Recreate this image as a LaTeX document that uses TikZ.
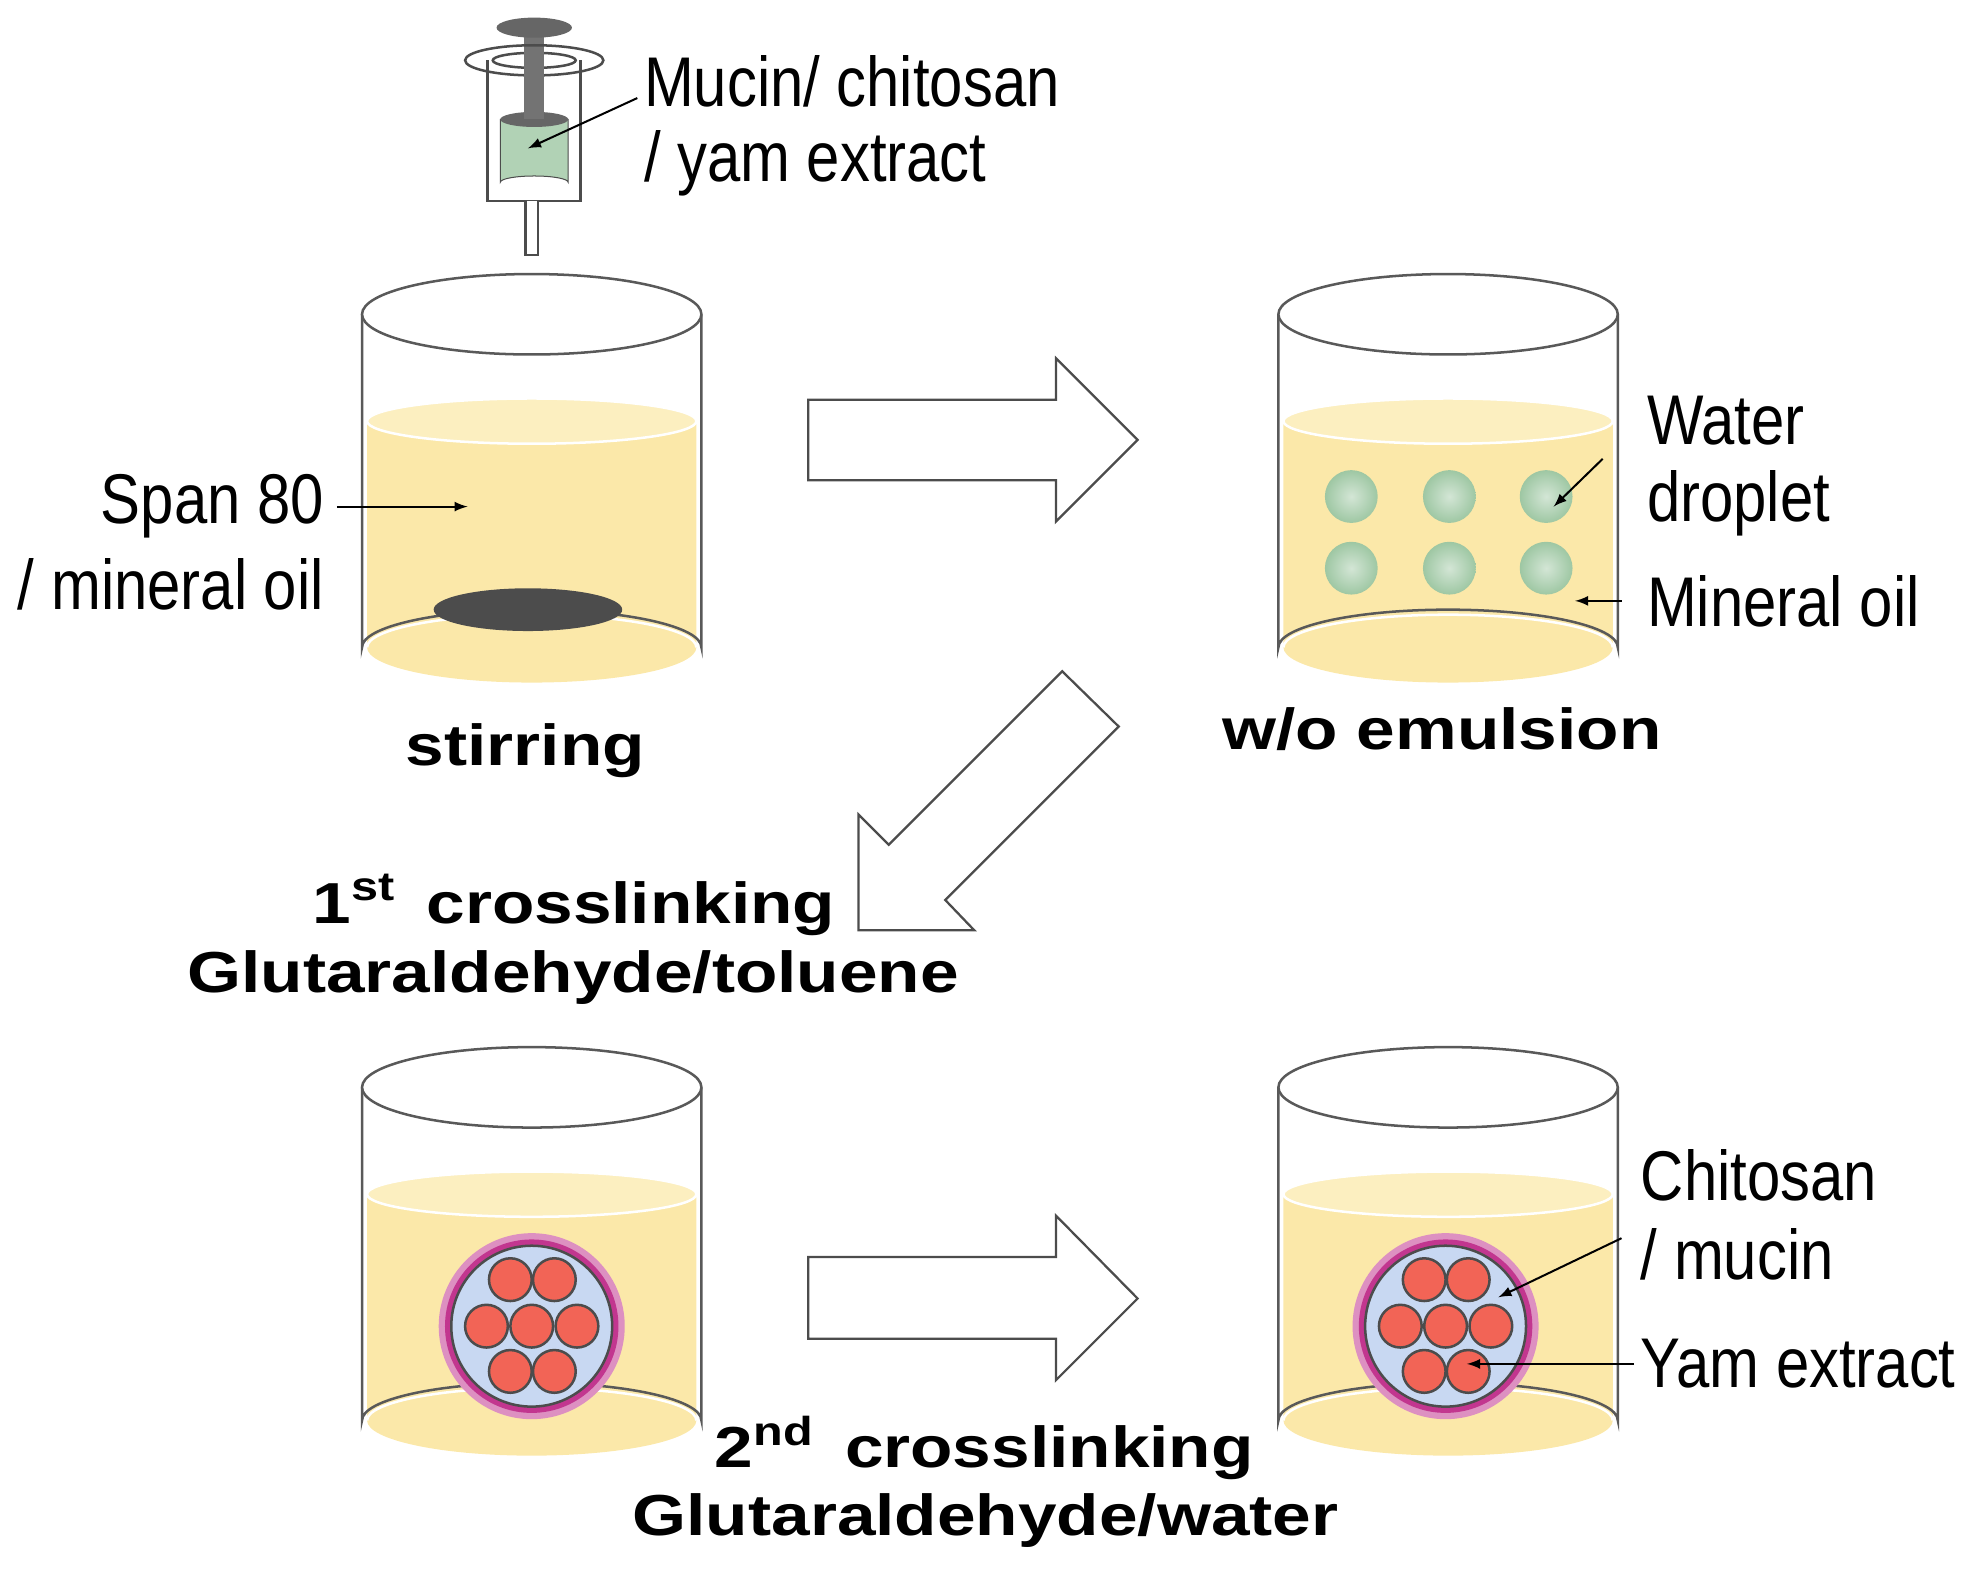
\documentclass[tikz,border=0pt]{standalone}
\usepackage{fontspec}
\setmainfont{Liberation Sans}
\begin{document}
\begin{tikzpicture}[x=0.5pt,y=-0.5pt,
  lbl/.style={font=\fontsize{28}{30}\selectfont,xscale=0.85,inner sep=0pt},
  blbl/.style={font=\fontsize{23}{26}\selectfont\bfseries,xscale=1.2,inner sep=0pt},
  ptr/.style={-latex,line width=0.8pt},
  liq/.style={fill=yellow!30!orange!25!white},
  bigarrow/.style={draw=black!70,line width=0.9pt,fill=white}]
\definecolor{oil}{HTML}{FBE8A9}
\definecolor{oilt}{HTML}{FCEFC0}
\definecolor{drop}{HTML}{9EC7A3}
\definecolor{red1}{HTML}{F26456}
\definecolor{blue1}{HTML}{C8D8F2}
\definecolor{mag}{HTML}{C2368F}
\useasboundingbox (0,0) rectangle (1568,1248);
\newcommand\mybeaker[2]{%
 % #1 left x, #2 y offset
 \fill[oil] (#1+4,#2+335) -- (#1+266,#2+335) -- (#1+266,#2+515) arc[start angle=0,end angle=180,x radius=131,y radius=28] -- cycle;
 \fill[oilt] (#1+135,#2+335) ellipse[x radius=131,y radius=18];
 \draw[white,line width=1pt] (#1+135,#2+335) ellipse[x radius=131,y radius=18];
 \draw[white,line width=1pt] (#1+4,#2+515) arc[start angle=180,end angle=360,x radius=131,y radius=26];
 \draw[black!65,line width=1pt] (#1,#2+250) -- (#1,#2+515) arc[start angle=180,end angle=360,x radius=135,y radius=30] -- (#1+270,#2+250);
 \draw[black!65,line width=1pt,fill=white] (#1+135,#2+250) ellipse[x radius=135,y radius=32];
}
% beakers
\mybeaker{288}{0}
\mybeaker{1017}{0}
\mybeaker{288}{615}
\mybeaker{1017}{615}
% stir bar
\fill[black!70] (420,485) ellipse[x radius=75,y radius=17];
% syringe
\draw[black!70,line width=1pt,fill=white] (388,48) -- (388,160) -- (462,160) -- (462,48);
\fill[drop!80!white,draw=black!70] (398,95) -- (398,145) arc[start angle=180,end angle=360,x radius=27,y radius=5] -- (452,95) -- cycle;
\fill[black!60] (425,95) ellipse[x radius=27,y radius=6];
\fill[black!55] (417,25) rectangle (433,95);
\draw[black!70,line width=1pt,fill=white] (418,160) -- (418,203) -- (428,203) -- (428,160);
\draw[black!70,line width=1pt] (425,48) ellipse[x radius=55,y radius=12];
\draw[black!70,line width=1pt] (425,48) ellipse[x radius=33,y radius=6];
\fill[black!55] (417,40) rectangle (433,75);
\fill[black!60] (425,22) ellipse[x radius=30,y radius=8];
\node[lbl,anchor=west] (muc1) at (512,65) {Mucin/ chitosan};
\node[lbl,anchor=west] (muc2) at (512,130) {/ yam extract};
\coordinate (m1) at (507,78);
\coordinate (m2) at (420,118);
\draw[ptr] (m1) -- (m2);
% span label
\node[lbl,anchor=east] (sp1) at (258,403) {Span 80};
\node[lbl,anchor=east] (sp2) at (258,465) {/ mineral oil};
\coordinate (s2) at (372,403);
\draw[ptr] (sp1.east) ++(10,0) coordinate (s1) -- (s2);
\node[blbl] (stir) at (418,597) {stirring};
% droplets
\foreach \x in {1075,1153,1230}{\foreach \y in {395,452}{
  \shade[inner color=drop!45!white,outer color=drop] (\x,\y) circle[radius=21];}}
\node[lbl,anchor=west] (w1) at (1310,335) {Water};
\node[lbl,anchor=west] (w2) at (1310,400) {droplet};
\node[lbl,anchor=west] (w3) at (1310,478) {Mineral oil};
\coordinate (wa) at (1275,365); \coordinate (wb) at (1236,403);
\draw[ptr] (wa) -- (wb);
\coordinate (oa) at (1290,478); \coordinate (ob) at (1253,478);
\draw[ptr] (oa) -- (ob);
\node[blbl] (emu) at (1147,580) {w/o emulsion};
% block arrows
\draw[bigarrow] (643,318) -- (840,318) -- (840,285) -- (905,350) -- (840,415) -- (840,382) -- (643,382) -- cycle;
\draw[bigarrow] (643,1000) -- (840,1000) -- (840,967) -- (905,1033) -- (840,1098) -- (840,1065) -- (643,1065) -- cycle;
\draw[bigarrow] (683,740) -- (683,648) -- (707,672) -- (845,534) -- (890,578) -- (752,716) -- (775,740) -- cycle;
\node[blbl,anchor=east] (c1) at (665,720) {1\textsuperscript{st}\, crosslinking};
\node[blbl] (g1) at (456,778) {Glutaraldehyde/toluene};
\node[blbl] (c2) at (783,1152) {2\textsuperscript{nd}\, crosslinking};
\node[blbl] (g2) at (784,1210) {Glutaraldehyde/water};
% capsules
\foreach \cx in {423,1150}{
  \fill[mag!55!white] (\cx,1055) circle[radius=74];
  \fill[mag] (\cx,1055) circle[radius=69];
  \draw[black!70,line width=1pt,fill=blue1] (\cx,1055) circle[radius=64];
  \foreach \dx/\dy in {-17/-37,18/-37,-36/0,0/0,36/0,-17/36,18/36}
    \draw[black!70,line width=1pt,fill=red1] (\cx+\dx,1055+\dy) circle[radius=17];
}
\node[lbl,anchor=west] (ch1) at (1305,935) {Chitosan};
\node[lbl,anchor=west] (ch2) at (1305,998) {/ mucin};
\node[lbl,anchor=west] (ya) at (1305,1085) {Yam extract};
\coordinate (ca) at (1290,985); \coordinate (cb) at (1192,1032);
\draw[ptr] (ca) -- (cb);
\coordinate (ya1) at (1300,1085); \coordinate (yb) at (1167,1085);
\draw[ptr] (ya1) -- (yb);
\end{tikzpicture}
\end{document}
